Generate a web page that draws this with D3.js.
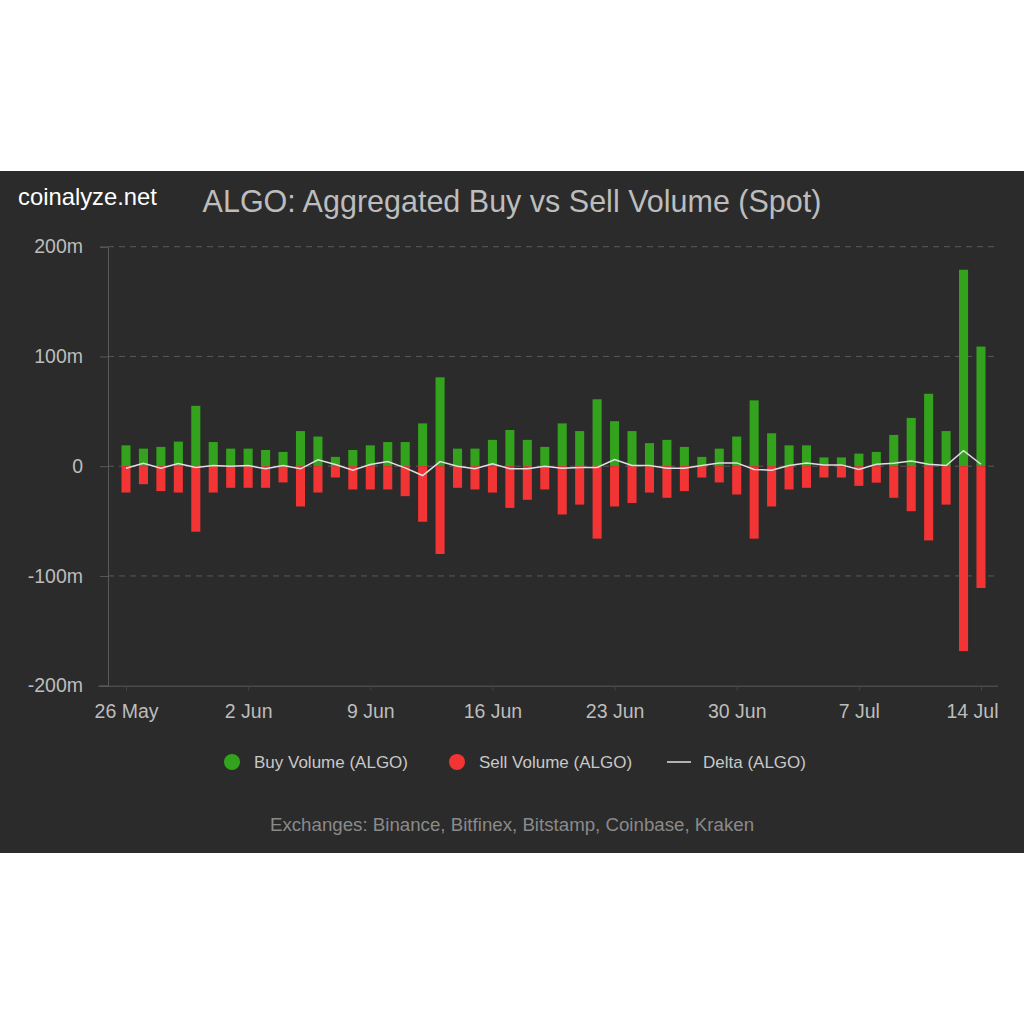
<!DOCTYPE html>
<html lang="en">
    <head>
        <meta charset="utf-8">
        <title>ALGO Buy vs Sell Volume</title>
        <script type="text/javascript" src="https://d3js.org/d3.v7.min.js"></script>
        <style type="text/css">
            body{
                margin: 0;
                background: #ffffff;
                font-family: 'Liberation Sans', Arial, sans-serif;
            }
            .axis text{
                font-family: 'Liberation Sans', Arial, sans-serif;
                font-size: 19.5px;
                fill: #bdbdbd;
            }
        </style>
    </head>

    <body>
        <script type="text/javascript">
            // chart size
            const svgW = 1024;
            const svgH = 1024;

            // daily data from 26 May to 14 Jul (millions)
            const startDate = "2024-05-26";
            const buyVolume = [19, 16, 17.6, 22.4, 55, 22, 16, 16, 14.8, 13,
                               32, 27, 8.5, 14.8, 19, 22, 22, 39, 81, 16,
                               16, 24, 33, 24, 17.6, 39, 32, 61, 41, 32,
                               21, 24, 17.6, 8.5, 16, 27, 60, 30, 19, 19,
                               8, 8, 11.5, 13, 28.5, 44, 66, 32, 179, 109];
            const sellVolume = [24, 16.4, 22.7, 24, 59.7, 24, 19.7, 19.7, 19.7, 14.8,
                                36.7, 24, 10.3, 21.2, 21.2, 21.2, 27.3, 50.6, 80, 19.7,
                                21.2, 24, 38, 30.6, 21.2, 44, 35, 66, 36.7, 33.6,
                                24, 28.8, 22.7, 10.3, 14.8, 25.8, 66, 36.7, 21.2, 19.7,
                                10.3, 10.3, 17.9, 15, 28.8, 41, 67.6, 35, 168.5, 111];
            const deltaValues = [-1.8, 2.7, -1.8, 2.4, -1.2, 0.6, 0, 0.6, -2.4, 0.6,
                                 -2.4, 5.8, 1.5, -3.6, 1.5, 4.2, -1.5, -8.5, 4.2, 0,
                                 -2.4, 2.1, -2.4, -2.4, 0, -1.8, -1.2, -1.2, 6, 0.6,
                                 0.6, -1.8, -1.8, 0.6, 3, 3, -3, -3.6, 0.6, 3,
                                 1.2, 1.2, -3, 1.8, 2.7, 4.8, 1.8, 0.6, 14.2, 1.8];
            const yTicks = [-200, -100, 0, 100, 200];
            const xTickLabels = ["26 May", "2 Jun", "9 Jun", "16 Jun", "23 Jun", "30 Jun", "7 Jul", "14 Jul"];

            const parse = d3.timeParse("%Y-%m-%d");
            const day0 = parse(startDate);
            const dataset = buyVolume.map((b, i) => ({
                date: d3.timeDay.offset(day0, i),
                buy: b,
                sell: sellVolume[i],
                delta: deltaValues[i]
            }));

            // scales
            const scaleX = d3.scaleTime()
                            .domain([dataset[0].date, dataset[dataset.length - 1].date])
                            .range([126, 981]);
            const scaleY = d3.scaleLinear()
                            .domain([-200, 200])
                            .range([685.7, 246.7]);
            const barW = (scaleX(dataset[1].date) - scaleX(dataset[0].date)) * 0.52;

            const svg = d3.select("body")
                        .append("svg")
                        .attr("width", svgW)
                        .attr("height", svgH);

            // dark panel
            svg.append("rect")
                .attr("x", 0)
                .attr("y", 171)
                .attr("width", svgW)
                .attr("height", 682)
                .attr("fill", "#2b2b2b");

            // header texts
            svg.append("text")
                .attr("x", 18)
                .attr("y", 205)
                .attr("fill", "#ffffff")
                .style("font-size", "23.8px")
                .text("coinalyze.net");
            svg.append("text")
                .attr("x", 512)
                .attr("y", 212)
                .attr("text-anchor", "middle")
                .attr("fill", "#bdbdbd")
                .style("font-size", "30.5px")
                .text("ALGO: Aggregated Buy vs Sell Volume (Spot)");

            // grid lines
            svg.append("g")
                .selectAll("line")
                .data(yTicks.filter(d => d !== -200))
                .enter()
                .append("line")
                .attr("x1", 108)
                .attr("x2", 998)
                .attr("y1", d => scaleY(d))
                .attr("y2", d => scaleY(d))
                .attr("stroke", "#5a5a5a")
                .attr("stroke-width", 1)
                .attr("stroke-dasharray", "6,5");

            // left axis
            const leftAxis = d3.axisLeft(scaleY)
                                .tickValues(yTicks)
                                .tickSize(8)
                                .tickPadding(17)
                                .tickFormat(d => d === 0 ? "0" : d + "m");
            const gy = svg.append("g")
                .attr("class", "axis")
                .attr("transform", "translate(108,0)")
                .call(leftAxis);
            gy.select(".domain").attr("stroke", "#5a5a5a");
            gy.selectAll(".tick line").attr("stroke", "#5a5a5a");

            // bottom axis
            const bottomAxis = d3.axisBottom(scaleX)
                                .ticks(d3.timeWeek.every(1))
                                .tickSize(5)
                                .tickPadding(13)
                                .tickFormat((d, i) => xTickLabels[i]);
            const gx = svg.append("g")
                .attr("class", "axis")
                .attr("transform", "translate(0,685.7)")
                .call(bottomAxis);
            gx.select(".domain").attr("d", "M98,0.5H998").attr("stroke", "#5a5a5a");
            gx.selectAll(".tick line").attr("stroke", "#444");
            // last label kept inside the plot edge
            gx.selectAll(".tick text")
                .filter((d, i, n) => i === n.length - 1)
                .attr("text-anchor", "end")
                .attr("dx", 998 - scaleX(dataset[dataset.length - 1].date));

            // buy bars
            svg.append("g")
                .selectAll("rect")
                .data(dataset)
                .enter()
                .append("rect")
                .attr("x", d => scaleX(d.date) - barW / 2)
                .attr("y", d => scaleY(d.buy))
                .attr("width", barW)
                .attr("height", d => scaleY(0) - scaleY(d.buy))
                .attr("fill", "#33a31d");

            // sell bars
            svg.append("g")
                .selectAll("rect")
                .data(dataset)
                .enter()
                .append("rect")
                .attr("x", d => scaleX(d.date) - barW / 2)
                .attr("y", scaleY(0))
                .attr("width", barW)
                .attr("height", d => scaleY(-d.sell) - scaleY(0))
                .attr("fill", "#f23434");

            // delta line
            const line = d3.line()
                            .x(d => scaleX(d.date))
                            .y(d => scaleY(d.delta));
            svg.append("path")
                .datum(dataset)
                .attr("d", line)
                .attr("fill", "none")
                .attr("stroke", "#e0e0e0")
                .attr("stroke-width", 1.5);

            // legend
            const legend = svg.append("g").style("font-size", "17px");
            legend.append("circle").attr("cx", 232).attr("cy", 762).attr("r", 8).attr("fill", "#33a31d");
            legend.append("text").attr("x", 254).attr("y", 768).attr("fill", "#c8c8c8").text("Buy Volume (ALGO)");
            legend.append("circle").attr("cx", 457).attr("cy", 762).attr("r", 8).attr("fill", "#f23434");
            legend.append("text").attr("x", 479).attr("y", 768).attr("fill", "#c8c8c8").text("Sell Volume (ALGO)");
            legend.append("line").attr("x1", 667).attr("x2", 691).attr("y1", 762).attr("y2", 762)
                .attr("stroke", "#e0e0e0").attr("stroke-width", 1.5);
            legend.append("text").attr("x", 703).attr("y", 768).attr("fill", "#c8c8c8").text("Delta (ALGO)");

            // footer
            svg.append("text")
                .attr("x", 512)
                .attr("y", 831)
                .attr("text-anchor", "middle")
                .attr("fill", "#8a8a8a")
                .style("font-size", "18.7px")
                .text("Exchanges: Binance, Bitfinex, Bitstamp, Coinbase, Kraken");
        </script>
    </body>
</html>
